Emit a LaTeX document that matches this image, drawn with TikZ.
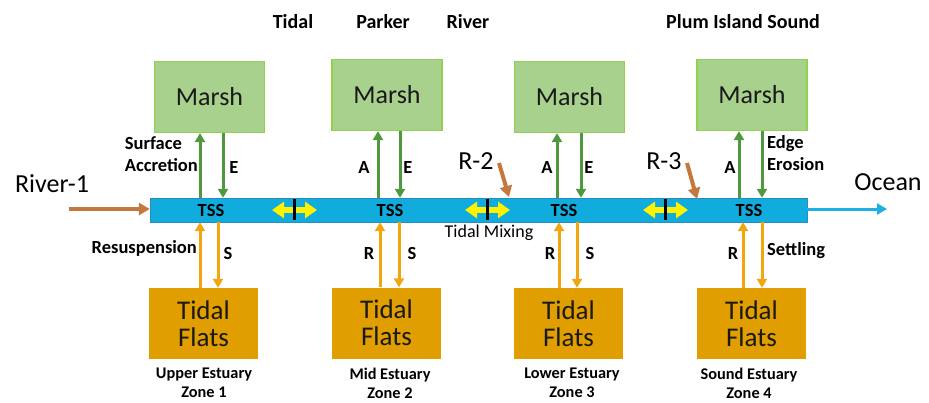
\documentclass[tikz,border=0pt]{standalone}
\usepackage{fontspec}
\setmainfont{Carlito}
\usepackage{tikz}
\usetikzlibrary{arrows.meta,positioning,calc}
\definecolor{marshgreen}{RGB}{169,209,142}
\definecolor{marshedge}{RGB}{146,208,80}
\definecolor{flatgold}{RGB}{224,158,0}
\definecolor{channel}{RGB}{16,172,222}
\definecolor{channeledge}{RGB}{40,140,190}
\definecolor{flowgreen}{RGB}{80,152,62}
\definecolor{floworange}{RGB}{240,166,12}
\definecolor{riverbrown}{RGB}{197,120,60}
\definecolor{oceanblue}{RGB}{30,175,230}

\begin{document}
\begin{tikzpicture}[x=1pt,y=-1pt,
  marsh/.style={draw=marshedge, line width=1.2pt, fill=marshgreen, minimum width=110pt, minimum height=71pt, inner sep=0pt, text=black!90, font=\fontsize{26}{28}\selectfont},
  flats/.style={fill=flatgold, minimum width=109pt, minimum height=71pt, inner sep=0pt, align=center, text=black!90, font=\fontsize{27}{27}\selectfont},
  lbl/.style={font=\fontsize{18.5}{22}\selectfont\bfseries, inner sep=0pt},
  title/.style={font=\fontsize{20}{22}\selectfont\bfseries, inner sep=0pt},
  zonelbl/.style={font=\fontsize{16.3}{19}\selectfont\bfseries, align=center, inner sep=0pt},
  big/.style={font=\fontsize{26}{28}\selectfont, inner sep=0pt},
  gflow/.style={draw=flowgreen, line width=3pt, -{Triangle[width=10pt,length=9pt]}},
  oflow/.style={draw=floworange, line width=3pt, -{Triangle[width=10pt,length=9pt]}},
  inflow/.style={draw=riverbrown, line width=4pt, -{Triangle[width=12pt,length=11pt]}},
  mixing/.style={draw=yellow, line width=5.5pt, {Triangle[width=16pt,length=12pt]}-{Triangle[width=16pt,length=12pt]}}]
\useasboundingbox (0,0) rectangle (929,402);

% Channel
\node[draw=channeledge, fill=channel, minimum width=657pt, minimum height=24pt, inner sep=0pt] (bar) at (478.5,210) {};
\node[lbl] (tss1) at (211,210) {TSS};
\node[lbl] (tss2) at (390,210) {TSS};
\node[lbl] (tss3) at (564,210) {TSS};
\node[lbl] (tss4) at (749,210) {TSS};

% Marsh boxes
\node[marsh] (m1) at (209.5,97) {Marsh};
\node[marsh] (m2) at (387,95) {Marsh};
\node[marsh] (m3) at (569.5,97) {Marsh};
\node[marsh] (m4) at (752,95) {Marsh};

% Tidal flats
\node[flats] (f1) at (203.5,323.5) {Tidal\\Flats};
\node[flats] (f2) at (386.5,323) {Tidal\\Flats};
\node[flats] (f3) at (568.5,323.5) {Tidal\\Flats};
\node[flats] (f4) at (751.5,323.5) {Tidal\\Flats};

% Marsh exchange (A up, E down)
\draw[gflow] ([xshift=-9.5pt]m1.south |- bar.north) -- ([xshift=-9.5pt]m1.south);
\draw[gflow] ([xshift=13.5pt]m1.south) -- ([xshift=13.5pt]m1.south |- bar.north);
\draw[gflow] ([xshift=-9pt]m2.south |- bar.north) -- ([xshift=-9pt]m2.south);
\draw[gflow] ([xshift=13pt]m2.south) -- ([xshift=13pt]m2.south |- bar.north);
\draw[gflow] ([xshift=-12.5pt]m3.south |- bar.north) -- ([xshift=-12.5pt]m3.south);
\draw[gflow] ([xshift=11.5pt]m3.south) -- ([xshift=11.5pt]m3.south |- bar.north);
\draw[gflow] ([xshift=-13pt]m4.south |- bar.north) -- ([xshift=-13pt]m4.south);
\draw[gflow] ([xshift=10pt]m4.south) -- ([xshift=10pt]m4.south |- bar.north);

% Flats exchange (R up, S down)
\draw[oflow] ([xshift=-3.5pt]f1.north) -- ([xshift=-3.5pt]f1.north |- bar.south);
\draw[oflow] ([xshift=14.5pt]f1.north |- bar.south) -- ([xshift=14.5pt]f1.north);
\draw[oflow] ([xshift=-6.5pt]f2.north) -- ([xshift=-6.5pt]f2.north |- bar.south);
\draw[oflow] ([xshift=12.5pt]f2.north |- bar.south) -- ([xshift=12.5pt]f2.north);
\draw[oflow] ([xshift=-9.5pt]f3.north) -- ([xshift=-9.5pt]f3.north |- bar.south);
\draw[oflow] ([xshift=8.5pt]f3.north |- bar.south) -- ([xshift=8.5pt]f3.north);
\draw[oflow] ([xshift=-8.5pt]f4.north) -- ([xshift=-8.5pt]f4.north |- bar.south);
\draw[oflow] ([xshift=10.5pt]f4.north |- bar.south) -- ([xshift=10.5pt]f4.north);

% Tidal mixing between zones
\coordinate (mx1) at (294.5,210);
\coordinate (mx2) at (487.5,210);
\coordinate (mx3) at (665.5,210);
\draw[mixing] ([xshift=-22.5pt]mx1) -- ([xshift=22.5pt]mx1);
\draw[mixing] ([xshift=-22.5pt]mx2) -- ([xshift=22.5pt]mx2);
\draw[mixing] ([xshift=-22.5pt]mx3) -- ([xshift=22.5pt]mx3);
\draw[line width=2.5pt] ([yshift=-10pt]mx1) -- ([yshift=11pt]mx1);
\draw[line width=2.5pt] ([yshift=-10pt]mx2) -- ([yshift=11pt]mx2);
\draw[line width=2.5pt] ([yshift=-10pt]mx3) -- ([yshift=11pt]mx3);
\node[font=\fontsize{18}{20}\selectfont, inner sep=0pt] (mixlbl) at (489,233) {Tidal Mixing};

% River inputs and ocean
\node[big] (river1) at (52,184) {River-1};
\node[big] (r2) at (476,161) {R-2};
\node[big] (r3) at (664,161) {R-3};
\node[big] (ocean) at (888,182) {Ocean};
\coordinate (in1) at (69,209);
\coordinate (in2) at (499,163);
\coordinate (in3) at (687,163);
\coordinate (out) at (887,209);
\draw[inflow] (in1) -- (in1 -| bar.west);
\draw[inflow] (in2) -- (509,197);
\draw[inflow] (in3) -- (697,199);
\draw[draw=oceanblue, line width=3pt, -{Triangle[width=11pt,length=10pt]}] (out -| bar.east) -- (out);

% Flux labels
\node[lbl, align=left, anchor=east] (acc) at (198,154) {Surface\\Accretion};
\node[lbl] (e1) at (234,167) {E};
\node[lbl] (a2) at (364,167) {A};
\node[lbl] (e2) at (408,167) {E};
\node[lbl] (a3) at (547,167) {A};
\node[lbl] (e3) at (589,167) {E};
\node[lbl] (a4) at (730,167) {A};
\node[lbl, align=left, anchor=west] (ero) at (767,153) {Edge\\Erosion};
\node[lbl, anchor=east] (res) at (197,248) {Resuspension};
\node[lbl] (s1) at (228,253) {S};
\node[lbl] (r2l) at (369,253) {R};
\node[lbl] (s2) at (412,253) {S};
\node[lbl] (r3l) at (550,253) {R};
\node[lbl] (s3) at (590,253) {S};
\node[lbl] (r4l) at (733,253) {R};
\node[lbl, anchor=west] (set) at (767,251) {Settling};

% Titles
\node[title] (t1) at (293,22) {Tidal};
\node[title] (t2) at (383,22) {Parker};
\node[title] (t3) at (468,22) {River};
\node[title] (t4) at (743,22) {Plum Island Sound};

% Zones
\node[zonelbl] (z1) at (204,383) {Upper Estuary\\Zone 1};
\node[zonelbl] (z2) at (390,383) {Mid Estuary\\Zone 2};
\node[zonelbl] (z3) at (572,383) {Lower Estuary\\Zone 3};
\node[zonelbl] (z4) at (749,383) {Sound Estuary\\Zone 4};
\end{tikzpicture}
\end{document}
